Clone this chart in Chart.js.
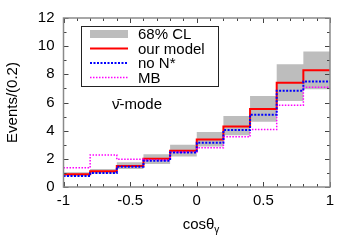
<!DOCTYPE html>
<html>
<head>
<meta charset="utf-8">
<script src="https://cdn.jsdelivr.net/npm/chart.js@4/dist/chart.umd.min.js"></script>
<style>
  html, body { margin: 0; padding: 0; background: #fff; }
  #wrap { width: 357px; height: 250px; }
</style>
</head>
<body>
<div id="wrap"><canvas id="histChart" width="357" height="250"></canvas></div>
<script>
// bin edges in cos(theta_gamma), 0.2 wide
const binEdges = [-1, -0.8, -0.6, -0.4, -0.2, 0, 0.2, 0.4, 0.6, 0.8, 1];

// events per bin
const ourModel = [0.9, 1.12, 1.5, 2.0, 2.57, 3.37, 4.3, 5.54, 7.41, 8.29];
const noNstar  = [0.78, 1.0, 1.43, 1.86, 2.45, 3.14, 4.04, 5.13, 6.84, 7.49];
const mbModel  = [1.36, 2.28, 1.97, 1.92, 2.47, 2.78, 3.56, 4.09, 5.8, 7.08];
const clUpper  = [1.05, 1.28, 1.75, 2.33, 3.0, 3.9, 5.04, 6.46, 8.72, 9.62];
const clLower  = [0.76, 0.96, 1.28, 1.64, 2.16, 2.87, 3.68, 4.63, 6.1, 6.94];

const xTicks = [-1, -0.5, 0, 0.5, 1];
const yTicks = [0, 2, 4, 6, 8, 10, 12];

const legendLabels = ['68% CL', 'our model', 'no N*', 'MB'];

// histogram values -> step points (last value repeated at the right edge)
function toSteps(values) {
    const pts = values.map((v, i) => ({ x: binEdges[i], y: v }));
    pts.push({ x: binEdges[binEdges.length - 1], y: values[values.length - 1] });
    return pts;
}

const FONT = 'Liberation Sans, Arial, Helvetica, sans-serif';
const FS = 15;

// frame, inside ticks, legend box, labels with sub/superscripts
const decorPlugin = {
    id: 'decor',
    afterDraw(chart) {
        const ctx = chart.ctx;
        const a = chart.chartArea;
        const xs = chart.scales.x, ys = chart.scales.y;
        ctx.save();

        // inside ticks on all four sides
        ctx.strokeStyle = '#444';
        ctx.lineWidth = 1;
        ctx.beginPath();
        for (let i = -10; i <= 10; i++) {
            const v = i / 10;
            const px = Math.round(xs.getPixelForValue(v)) + 0.5;
            const len = (i % 5 === 0) ? 5 : 3;
            ctx.moveTo(px, a.bottom); ctx.lineTo(px, a.bottom - len);
            ctx.moveTo(px, a.top); ctx.lineTo(px, a.top + len);
        }
        for (let v = 0; v <= 12; v++) {
            const py = Math.round(ys.getPixelForValue(v)) + 0.5;
            const len = (v % 2 === 0) ? 5 : 3;
            ctx.moveTo(a.left, py); ctx.lineTo(a.left + len, py);
            ctx.moveTo(a.right, py); ctx.lineTo(a.right - len, py);
        }
        ctx.stroke();

        // frame
        ctx.strokeStyle = '#8a8a8a';
        ctx.lineWidth = 1.5;
        ctx.strokeRect(a.left, a.top, a.right - a.left, a.bottom - a.top);

        // legend box
        const lx = 81, ly = 26, lw = 137, lh = 60;
        ctx.fillStyle = '#fff';
        ctx.fillRect(lx, ly, lw, lh);
        ctx.strokeStyle = '#222';
        ctx.lineWidth = 1;
        ctx.strokeRect(lx + 0.5, ly + 0.5, lw, lh);

        const rowY = [34, 48.5, 63, 77.5];
        const sx0 = 90, sx1 = 128;
        // gray sample
        ctx.fillStyle = '#bdbdbd';
        ctx.fillRect(sx0, rowY[0] - 4, sx1 - sx0, 8);
        // red
        ctx.strokeStyle = '#ff0000';
        ctx.lineWidth = 2;
        ctx.beginPath(); ctx.moveTo(sx0, rowY[1]); ctx.lineTo(sx1, rowY[1]); ctx.stroke();
        // blue dotted
        ctx.strokeStyle = '#0000ff';
        ctx.setLineDash([2, 1.5]);
        ctx.beginPath(); ctx.moveTo(sx0, rowY[2]); ctx.lineTo(sx1, rowY[2]); ctx.stroke();
        // magenta dotted
        ctx.strokeStyle = '#ff00ff';
        ctx.lineWidth = 1.5;
        ctx.setLineDash([1.5, 1.5]);
        ctx.beginPath(); ctx.moveTo(sx0, rowY[3]); ctx.lineTo(sx1, rowY[3]); ctx.stroke();
        ctx.setLineDash([]);

        ctx.fillStyle = '#000';
        ctx.font = FS + 'px ' + FONT;
        ctx.textBaseline = 'middle';
        ctx.textAlign = 'left';
        legendLabels.forEach((t, i) => ctx.fillText(t, 138, rowY[i] + 1));

        // mode label
        ctx.fillText('\u03bd\u0304-mode', 112, 105);

        // x axis title: cos theta with subscript gamma
        ctx.textBaseline = 'alphabetic';
        const main = 'cos\u03b8';
        const mw = ctx.measureText(main).width;
        ctx.font = '10px ' + FONT;
        const sw = ctx.measureText('\u03b3').width;
        const tx = 201 - (mw + sw) / 2;
        ctx.font = FS + 'px ' + FONT;
        ctx.fillText(main, tx, 229);
        ctx.font = '10px ' + FONT;
        ctx.fillText('\u03b3', tx + mw, 233);

        ctx.restore();
    }
};

const ctx = document.getElementById('histChart').getContext('2d');
const histChart = new Chart(ctx, {
    type: 'line',
    data: {
        datasets: [
            {
                label: 'no N*',
                data: toSteps(noNstar),
                stepped: 'before',
                borderColor: '#0000ff',
                borderWidth: 2,
                borderDash: [2, 1.5],
                pointRadius: 0,
                fill: false,
                order: 1
            },
            {
                label: 'our model',
                data: toSteps(ourModel),
                stepped: 'before',
                borderColor: '#ff0000',
                borderWidth: 2,
                pointRadius: 0,
                fill: false,
                order: 3
            },
            {
                label: 'MB',
                data: toSteps(mbModel),
                stepped: 'before',
                borderColor: '#ff00ff',
                borderWidth: 1.5,
                borderDash: [1.5, 1.5],
                pointRadius: 0,
                fill: false,
                order: 2
            },
            {
                label: 'CL lower',
                data: toSteps(clLower),
                stepped: 'before',
                borderWidth: 0,
                borderColor: 'rgba(0,0,0,0)',
                pointRadius: 0,
                fill: false,
                order: 6
            },
            {
                label: '68% CL',
                data: toSteps(clUpper),
                stepped: 'before',
                borderWidth: 0,
                borderColor: 'rgba(0,0,0,0)',
                backgroundColor: '#bdbdbd',
                pointRadius: 0,
                fill: '-1',
                order: 5
            }
        ]
    },
    options: {
        responsive: false,
        animation: false,
        events: [],
        layout: { padding: { left: 0, right: 27, top: 18, bottom: 0 } },
        plugins: {
            legend: { display: false },
            tooltip: { enabled: false },
            filler: { propagate: false }
        },
        scales: {
            x: {
                type: 'linear',
                min: -1,
                max: 1,
                grid: { display: false, drawTicks: false },
                border: { display: false },
                afterBuildTicks: scale => { scale.ticks = xTicks.map(v => ({ value: v })); },
                afterFit: scale => { scale.height = 63; },
                ticks: {
                    padding: 5,
                    color: '#000',
                    font: { family: FONT, size: FS },
                    maxRotation: 0,
                    callback: v => String(v)
                }
            },
            y: {
                type: 'linear',
                min: 0,
                max: 12,
                grid: { display: false, drawTicks: false },
                border: { display: false },
                afterBuildTicks: scale => { scale.ticks = yTicks.map(v => ({ value: v })); },
                afterFit: scale => { scale.width = 63.5; },
                ticks: {
                    padding: 9,
                    color: '#000',
                    font: { family: FONT, size: FS },
                    callback: v => String(v)
                },
                title: {
                    display: true,
                    text: 'Events/(0.2)',
                    color: '#000',
                    font: { family: FONT, size: FS },
                    padding: { top: 4, bottom: 0 }
                }
            }
        }
    },
    plugins: [decorPlugin]
});
</script>
</body>
</html>
